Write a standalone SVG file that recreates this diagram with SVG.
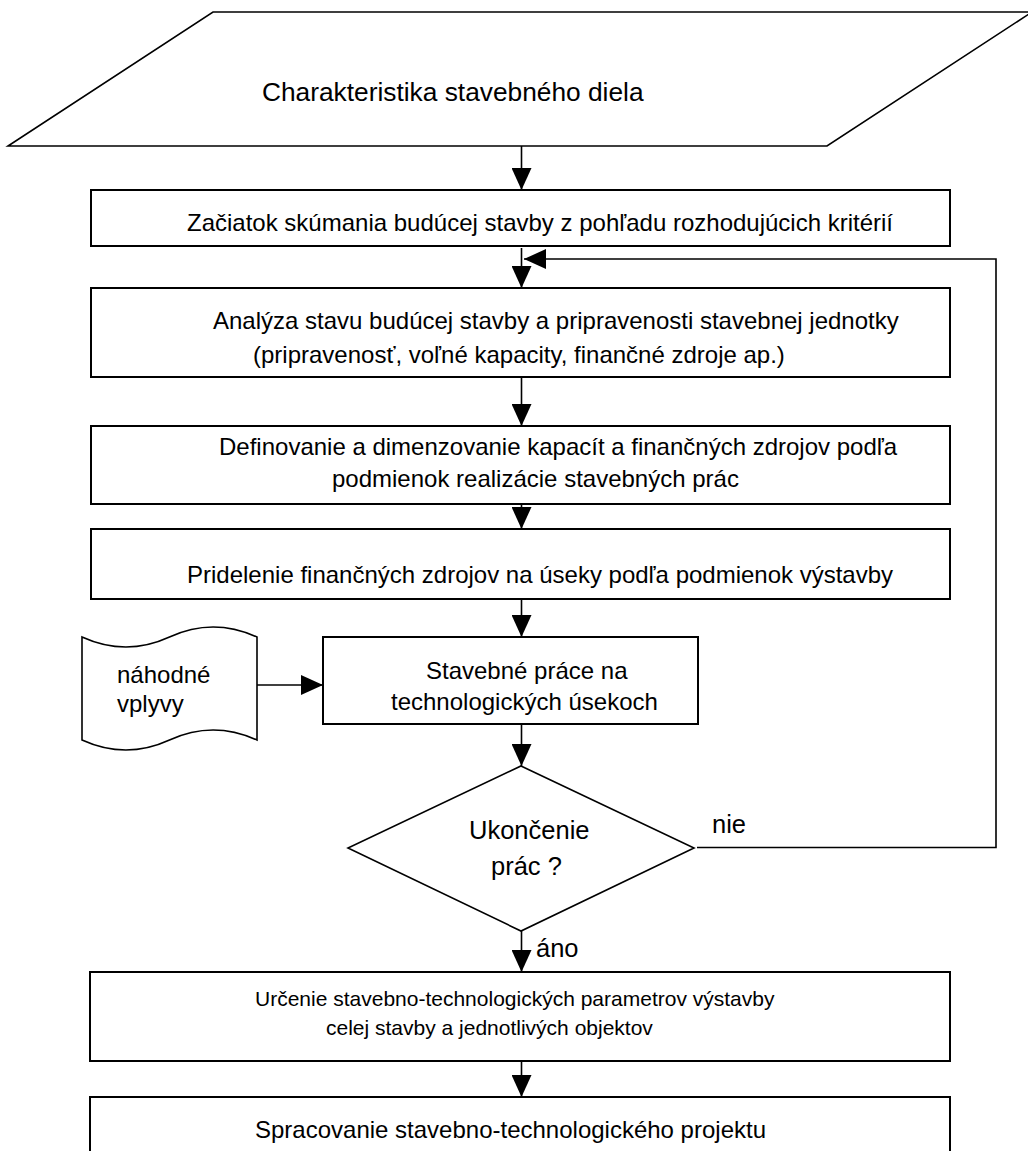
<svg xmlns="http://www.w3.org/2000/svg" width="1028" height="1151" viewBox="0 0 1028 1151">
<style>
.shape{fill:#fff;stroke:#000;stroke-width:1.6}
.box{fill:#fff;stroke:#000;stroke-width:2}
.t{font-family:"Liberation Sans",Arial,sans-serif;fill:#000}
.conn{fill:none;stroke:#000;stroke-width:1.6}
</style>
<defs>
<marker id="ah" markerUnits="userSpaceOnUse" markerWidth="22" markerHeight="20" refX="22" refY="10" orient="auto">
<path d="M0,0 L22,10 L0,20 z" fill="#000"/>
</marker>
</defs>
<rect width="1028" height="1151" fill="#fff"/>
<g id="connectors">
<line class="conn" x1="521.5" y1="146" x2="521.5" y2="190" marker-end="url(#ah)"/>
<line class="conn" x1="521.5" y1="248" x2="521.5" y2="288" marker-end="url(#ah)"/>
<line class="conn" x1="521.5" y1="377" x2="521.5" y2="426" marker-end="url(#ah)"/>
<line class="conn" x1="521.5" y1="504" x2="521.5" y2="529" marker-end="url(#ah)"/>
<line class="conn" x1="521.5" y1="599" x2="521.5" y2="637" marker-end="url(#ah)"/>
<line class="conn" x1="257" y1="685" x2="323" y2="685" marker-end="url(#ah)"/>
<line class="conn" x1="521.5" y1="724" x2="521.5" y2="766" marker-end="url(#ah)"/>
<line class="conn" x1="521.5" y1="931" x2="521.5" y2="972" marker-end="url(#ah)"/>
<line class="conn" x1="521.5" y1="1061" x2="521.5" y2="1097" marker-end="url(#ah)"/>
<path class="conn" d="M697,847.5 H996 V259 H524" marker-end="url(#ah)"/>
<text class="t" x="712" y="833" font-size="25.5">nie</text>
<text class="t" x="536" y="957" font-size="25.5">áno</text>
</g>
<g id="n-input">
<polygon class="shape" points="213,12 1032,12 827,146 8,146"/>
<text class="t" x="262" y="101" font-size="26.3">Charakteristika stavebného diela</text>
</g>
<g id="n-zaciatok">
<rect class="box" x="91" y="190" width="859" height="56"/>
<text class="t" x="187" y="231" font-size="24">Začiatok skúmania budúcej stavby z pohľadu rozhodujúcich kritérií</text>
</g>
<g id="n-analyza">
<rect class="box" x="91" y="288" width="859" height="89"/>
<text class="t" x="213" y="329" font-size="24">Analýza stavu budúcej stavby a pripravenosti stavebnej jednotky</text>
<text class="t" x="253" y="363" font-size="24">(pripravenosť, voľné kapacity, finančné zdroje ap.)</text>
</g>
<g id="n-definovanie">
<rect class="box" x="91" y="426" width="859" height="78"/>
<text class="t" x="219" y="455" font-size="24">Definovanie a dimenzovanie kapacít a finančných zdrojov podľa</text>
<text class="t" x="332" y="487" font-size="24">podmienok realizácie stavebných prác</text>
</g>
<g id="n-pridelenie">
<rect class="box" x="91" y="529" width="859" height="70"/>
<text class="t" x="187" y="583" font-size="24">Pridelenie finančných zdrojov na úseky podľa podmienok výstavby</text>
</g>
<g id="n-nahodne">
<path class="shape" d="M82,637 Q126,657 169.5,637 Q213,617 257,637 L257,740 Q213,720 169.5,740 Q126,760 82,740 Z"/>
<text class="t" x="117" y="683" font-size="24">náhodné</text>
<text class="t" x="117" y="712" font-size="24">vplyvy</text>
</g>
<g id="n-stavebne">
<rect class="box" x="323" y="637" width="375" height="87"/>
<text class="t" x="426" y="679" font-size="24">Stavebné práce na</text>
<text class="t" x="391" y="710" font-size="24">technologických úsekoch</text>
</g>
<g id="n-ukoncenie">
<polygon class="shape" points="521,766 694,848 521,931 348,848"/>
<text class="t" x="469" y="839" font-size="25.5">Ukončenie</text>
<text class="t" x="491" y="875" font-size="25.5">prác ?</text>
</g>
<g id="n-urcenie">
<rect class="box" x="90" y="972" width="860" height="89"/>
<text class="t" x="255" y="1006" font-size="21">Určenie stavebno-technologických parametrov výstavby</text>
<text class="t" x="326" y="1035" font-size="21">celej stavby a jednotlivých objektov</text>
</g>
<g id="n-spracovanie">
<rect class="box" x="90" y="1097" width="860" height="70"/>
<text class="t" x="255" y="1138" font-size="24">Spracovanie stavebno-technologického projektu</text>
</g>
</svg>
